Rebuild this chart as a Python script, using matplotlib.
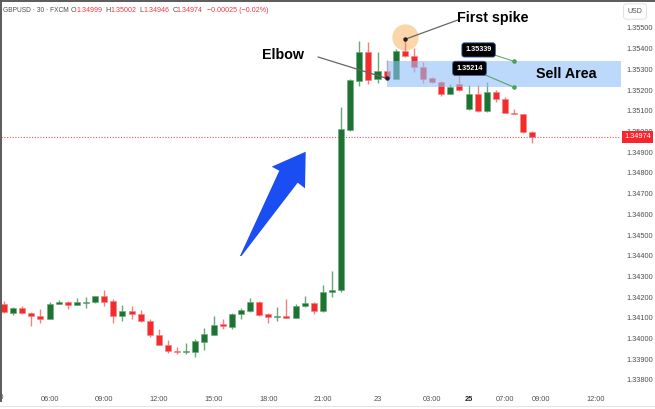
import matplotlib
matplotlib.use("Agg")
import matplotlib.pyplot as plt
from matplotlib.patches import Polygon, Rectangle
from matplotlib.lines import Line2D
from matplotlib.transforms import blended_transform_factory
import numpy as np

# ___ candle data (GBPUSD 30m) ___ #
opens = [1.34165, 1.34125, 1.34146, 1.34125, 1.34110, 1.34096, 1.34168, 1.34178, 1.34164, 1.34172,
         1.34175, 1.34204, 1.34180, 1.34109, 1.34133, 1.34120, 1.34085, 1.34017, 1.33970, 1.33941,
         1.33933, 1.33935, 1.33985, 1.34019, 1.34065, 1.34057, 1.34118, 1.34135, 1.34176, 1.34117,
         1.34104, 1.34110, 1.34101, 1.34155, 1.34172, 1.34133, 1.34226, 1.34233, 1.35007, 1.35244,
         1.35386, 1.35252, 1.35292, 1.35252, 1.35390, 1.35366, 1.35313, 1.35257, 1.35241, 1.35181,
         1.35228, 1.35107, 1.35181, 1.35101, 1.35192, 1.35155, 1.35091, 1.35083, 1.34999]
highs = [1.34181, 1.34154, 1.34157, 1.34130, 1.34143, 1.34175, 1.34186, 1.34181, 1.34197, 1.34199,
         1.34207, 1.34234, 1.34189, 1.34164, 1.34157, 1.34138, 1.34096, 1.34044, 1.33993, 1.33957,
         1.33980, 1.33998, 1.34052, 1.34109, 1.34093, 1.34125, 1.34149, 1.34196, 1.34183, 1.34125,
         1.34154, 1.34189, 1.34167, 1.34205, 1.34176, 1.34257, 1.34325, 1.35117, 1.35252, 1.35439,
         1.35431, 1.35386, 1.35345, 1.35397, 1.35445, 1.35402, 1.35337, 1.35265, 1.35244, 1.35228,
         1.35273, 1.35225, 1.35225, 1.35241, 1.35200, 1.35165, 1.35107, 1.35083, 1.35002]
lows = [1.34122, 1.34115, 1.34118, 1.34062, 1.34077, 1.34096, 1.34167, 1.34143, 1.34164, 1.34149,
        1.34173, 1.34159, 1.34073, 1.34085, 1.34096, 1.34080, 1.34007, 1.33967, 1.33932, 1.33924,
        1.33925, 1.33909, 1.33945, 1.34015, 1.34044, 1.34048, 1.34094, 1.34130, 1.34109, 1.34077,
        1.34085, 1.34101, 1.34098, 1.34154, 1.34117, 1.34128, 1.34202, 1.34225, 1.35002, 1.35220,
        1.35229, 1.35233, 1.35252, 1.35252, 1.35362, 1.35289, 1.35233, 1.35236, 1.35173, 1.35181,
        1.35197, 1.35104, 1.35096, 1.35096, 1.35144, 1.35088, 1.35083, 1.34994, 1.34946]
closes = [1.34126, 1.34146, 1.34122, 1.34110, 1.34096, 1.34168, 1.34178, 1.34164, 1.34176, 1.34175,
          1.34204, 1.34178, 1.34110, 1.34133, 1.34117, 1.34083, 1.34015, 1.33970, 1.33938, 1.33933,
          1.33938, 1.33986, 1.34020, 1.34064, 1.34062, 1.34118, 1.34138, 1.34176, 1.34114, 1.34102,
          1.34110, 1.34101, 1.34157, 1.34172, 1.34133, 1.34226, 1.34233, 1.35010, 1.35247, 1.35386,
          1.35249, 1.35292, 1.35257, 1.35390, 1.35366, 1.35313, 1.35252, 1.35241, 1.35181, 1.35217,
          1.35200, 1.35181, 1.35101, 1.35192, 1.35155, 1.35091, 1.35085, 1.34999, 1.34974]

time_ticks = [5, 11, 17, 23, 29, 35, 41, 47, 51, 55, 59, 65]
time_labels = ["06:00", "09:00", "12:00", "15:00", "18:00", "21:00", "23",
               "03:00", "25", "07:00", "09:00", "12:00"]
price_ticks = [1.338, 1.339, 1.340, 1.341, 1.342, 1.343, 1.344, 1.345, 1.346,
               1.347, 1.348, 1.349, 1.350, 1.351, 1.352, 1.353, 1.354, 1.355]

sell_top = 1.35339
sell_bottom = 1.35214
elbow_idx = 42
spike_idx = 44

W, H = 655, 409
GREEN, GREEN_W = "#1d7432", "#6aa878"
RED, RED_W = "#f42b2b", "#f58080"
TXT = "#4f4f4f"
plt.rcParams['font.family'] = ['Liberation Sans', 'DejaVu Sans']


def px(x, y):
    # pixel position (from top-left) -> figure fraction
    return (x / W, 1 - y / H)


fig = plt.figure(figsize=(W / 100, H / 100), dpi=100)
ax = fig.add_axes([1 / W, 21 / H, 620 / W, 387 / H])
ax.set_xlim(-0.33, 67.73)
ax.set_ylim(1.337609, 1.356304)

# --- candles --- #
idx = np.arange(len(opens))
o = np.array(opens); c = np.array(closes)
up = c >= o
body_lo = np.minimum(o, c)
body_h = np.maximum(np.abs(c - o), 0.00006)
wick_cols = [GREEN_W if u else RED_W for u in up]
body_cols = [GREEN if u else RED for u in up]
ax.vlines(idx, lows, highs, colors=wick_cols, lw=1.0, zorder=2)
ax.bar(idx, body_h, bottom=body_lo, width=0.66, color=body_cols,
       edgecolor=wick_cols, linewidth=0.4, zorder=3)

# --- sell area box --- #
ax.add_patch(Rectangle((elbow_idx + 0.08, sell_bottom), 100, sell_top - sell_bottom,
                       facecolor="#90bff9", alpha=0.6, edgecolor="none", zorder=4))
ax.text(61.7, (sell_top + sell_bottom) / 2, "Sell Area", fontsize=10.3, weight="bold",
        ha="center", va="center", zorder=6)

# --- price labels of the box --- #
for val, pos in [(sell_top, (52.1, 1.35394)), (sell_bottom, (51.1, 1.35305))]:
    ax.annotate("%.5f" % val, xy=(56, val), xytext=pos, ha="center", va="center",
                fontsize=5.2, color="white", weight="bold", zorder=7,
                bbox=dict(boxstyle="round,pad=0.5,rounding_size=0.35", fc="black",
                          ec="#3d5f9e", lw=0.6),
                arrowprops=dict(arrowstyle="-", color="#4f9f55", lw=0.7,
                                shrinkA=0, shrinkB=0))
ax.plot([56, 56], [sell_top, sell_bottom], "o", ms=2.3, color="#4f9f55", zorder=7)

# --- first spike / elbow notes --- #
ax.scatter([spike_idx], [1.35457], s=360, color="#fbd6a9", zorder=1.5, linewidths=0)
ax.annotate("", xy=(spike_idx, highs[spike_idx]), xytext=(49.84, 1.35539),
            arrowprops=dict(arrowstyle="-", color="#666666", lw=0.9, shrinkA=0, shrinkB=0),
            zorder=6)
ax.plot([spike_idx], [highs[spike_idx]], "o", ms=2.2, color="#222222", zorder=7)
ax.text(53.7, 1.35548, "First spike", fontsize=10.3, weight="bold", ha="center",
        va="center", zorder=6)

ax.annotate("", xy=(elbow_idx, closes[elbow_idx]), xytext=(34.47, 1.35360),
            arrowprops=dict(arrowstyle="-", color="#666666", lw=0.9, shrinkA=0, shrinkB=0),
            zorder=6)
ax.plot([elbow_idx], [closes[elbow_idx]], "o", ms=2.2, color="#222222", zorder=7)
ax.text(30.6, 1.35370, "Elbow", fontsize=10.3, weight="bold", ha="center",
        va="center", zorder=6)

# --- last price line + label --- #
last = closes[-1]
ax.axhline(last, color="#f0505a", ls=(0, (1, 1.5)), lw=0.8, zorder=1)
trans = blended_transform_factory(ax.transAxes, ax.transData)
ax.text(1 + 16.5 / 620, last, "%.5f" % last, transform=trans, ha="center", va="center",
        fontsize=5.3, color="white", clip_on=False, zorder=10,
        bbox=dict(boxstyle="square,pad=0.3", fc="#f7252d", ec="none"))

# --- axes --- #
for s in ax.spines.values():
    s.set_visible(False)
ax.yaxis.tick_right()
ax.set_yticks(price_ticks)
ax.set_yticklabels(["%.5f" % p for p in price_ticks])
ax.set_xticks(time_ticks)
ax.set_xticklabels(time_labels)
ax.tick_params(axis="both", length=0, labelsize=5.3, labelcolor=TXT)
ax.tick_params(axis="y", pad=4)
ax.tick_params(axis="x", pad=6)
for lab in ax.get_xticklabels():
    if lab.get_text() == "25":
        lab.set_fontweight("bold")
        lab.set_color("#222222")
# cut-off label at the left edge
ax.text(-1, -0.0235, "03:00", transform=blended_transform_factory(ax.transData, ax.transAxes),
        ha="center", va="center", fontsize=5.3, color=TXT, clip_on=False)

# --- blue arrow --- #
arrow_px = [(240, 256), (279.3, 170.7), (271.7, 166.7), (305.7, 151.7),
            (305, 188.3), (297.7, 182.7), (241.5, 256)]
fig.add_artist(Polygon([px(*p) for p in arrow_px], closed=True, transform=fig.transFigure,
                       facecolor="#1b4ef2", edgecolor="none"))

# --- header --- #
hy = px(0, 10)[1]
fig.text(px(3, 0)[0], hy, "GBPUSD · 30 · FXCM", fontsize=4.8, color=TXT, va="center")
for x, s, col in [(71, "O", TXT), (76.5, "1.34999", "#f23645"), (105.5, "H", TXT),
                  (110.5, "1.35002", "#f23645"), (139.5, "L", TXT), (143.5, "1.34946", "#f23645"),
                  (172.5, "C", TXT), (177, "1.34974", "#f23645"),
                  (207, "\u22120.00025 (\u22120.02%)", "#f23645")]:
    fig.text(px(x, 0)[0], hy, s, fontsize=5.1, color=col, va="center")

fig.text(px(635, 0)[0], px(0, 11.5)[1], "USD", fontsize=5.0, color=TXT, ha="center",
         va="center", bbox=dict(boxstyle="round,pad=0.6,rounding_size=0.5", fc="white",
                                ec="#dcdcdc", lw=0.6))

# --- frame lines --- #
fig.add_artist(Line2D([0, 1], [1 - 0.6 / H] * 2, color="#5a5a5a", lw=1.4))
fig.add_artist(Line2D([0.6 / W] * 2, [1 - 401 / H, 1], color="#5a5a5a", lw=1.4))
fig.add_artist(Line2D([0, 1], [1 - 406 / H] * 2, color="#e4e4e4", lw=0.8))

fig.savefig("out.png", dpi=100)
